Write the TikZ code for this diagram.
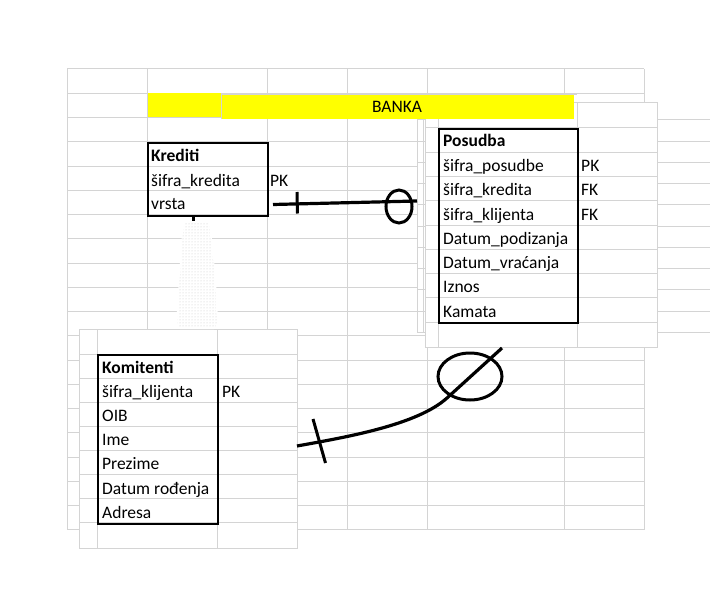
\documentclass[tikz,border=0pt]{standalone}
\usepackage{fontspec}
\setmainfont{Carlito}
\usetikzlibrary{patterns}
\definecolor{gridc}{RGB}{212,212,212}
\definecolor{xlyellow}{RGB}{255,255,0}
\begin{document}
\begin{tikzpicture}[x=1pt,y=-1pt,
  gridline/.style={draw=gridc,line width=1pt},
  sheet/.style={fill=white,draw=gridc,line width=1pt},
  entbox/.style={draw=black,line width=2pt,inner sep=0pt,anchor=north west},
  cell/.style={anchor=base west,inner sep=0pt,font=\fontsize{17.5}{20}\selectfont},
  hcell/.style={cell,font=\fontsize{17.5}{20}\selectfont\bfseries},
  title/.style={anchor=base,inner sep=0pt,font=\fontsize{17.5}{20}\selectfont},
  link/.style={draw=black,line width=3.2pt},
  tickmark/.style={draw=black,line width=3pt},
  ring/.style={draw=black,line width=3pt}
]
\useasboundingbox (0,0) rectangle (710,599);
\fill[white] (0,0) rectangle (710,599);

% main worksheet grid
\foreach \x in {67,147,267,347,427,564.5,644} \draw[gridline] (\x,69) -- (\x,530);
\foreach \k in {0,...,19} \draw[gridline] (67,69+\k*24.263) -- (644,69+\k*24.263);

% yellow cell of the sheet
\fill[xlyellow] (147.5,93.5) rectangle (221,117);

% sheet picture behind Posudba
\fill[white] (417.5,120) rectangle (712,332.5);
\draw[gridline] (417.5,332.5) -- (417.5,120) -- (712,120);
\draw[gridline] (423.3,120) -- (423.3,332.5);
\foreach \k in {1,...,10} \draw[gridline] (417.5,120+\k*21.23) -- (712,120+\k*21.23);

% sheet picture of Posudba
\draw[sheet] (425.5,103) rectangle (657,347);
\foreach \x in {438,577} \draw[gridline] (\x,103) -- (\x,347);
\foreach \y in {128,152.3,176.5,200.8,225,249.3,273.5,297.8,322} \draw[gridline] (425.5,\y) -- (657,\y);

% pasted yellow title
\fill[xlyellow] (221,94.5) rectangle (573.5,119);
\draw[gridline] (221,119) -- (221,94.5) -- (577,94.5);
\node[title] (banka) at (397,113) {BANKA};

% sheet picture of Komitenti
\draw[sheet] (79.5,329) rectangle (297,548);
\foreach \x in {97,217} \draw[gridline] (\x,329) -- (\x,548);
\foreach \k in {0,...,7} \draw[gridline] (79.5,354+\k*24.14) -- (297,354+\k*24.14);

% erased strip below Krediti
\fill[white, rounded corners=4pt] (183,219) -- (210,219) -- (214,260) -- (217.5,300) -- (218,329) -- (176,329) -- (177.5,300) -- (180,260) -- cycle;
\fill[pattern=dots, pattern color=black!22, rounded corners=4pt] (184,222) -- (209,222) -- (213,260) -- (216.5,300) -- (217,328) -- (177,328) -- (178.5,300) -- (181,260) -- cycle;
\fill[black] (191.5,215) rectangle (195,221);

% Krediti
\node[entbox, minimum width=120pt, minimum height=73pt] (kred) at (146.5,142) {};
\node[hcell] (kh) at (151,161.5) {Krediti};
\node[cell] (k1) at (151,186) {šifra\_kredita};
\node[cell] (k2) at (151,210) {vrsta};
\node[cell] (k1t) at (270,186) {PK};

% Posudba
\node[entbox, minimum width=139pt, minimum height=194pt] (pos) at (438,128) {};
\node[hcell] (ph) at (443,147) {Posudba};
\node[cell] (p1) at (443,171.5) {šifra\_posudbe};
\node[cell] (p2) at (443,195.5) {šifra\_kredita};
\node[cell] (p3) at (443,220) {šifra\_klijenta};
\node[cell] (p4) at (443,244) {Datum\_podizanja};
\node[cell] (p5) at (443,268) {Datum\_vraćanja};
\node[cell] (p6) at (443,292.5) {Iznos};
\node[cell] (p7) at (443,317) {Kamata};
\node[cell] (p1t) at (581,171.5) {PK};
\node[cell] (p2t) at (581,195.5) {FK};
\node[cell] (p3t) at (581,220) {FK};

% Komitenti
\node[entbox, minimum width=120pt, minimum height=169pt] (kom) at (97,354) {};
\node[hcell] (mh) at (102,373) {Komitenti};
\node[cell] (m1) at (102,397) {šifra\_klijenta};
\node[cell] (m2) at (102,421) {OIB};
\node[cell] (m3) at (102,445) {Ime};
\node[cell] (m4) at (102,469.5) {Prezime};
\node[cell] (m5) at (102,494) {Datum rođenja};
\node[cell] (m6) at (102,518) {Adresa};
\node[cell] (m1t) at (222,397) {PK};

% connector Krediti -- Posudba
\coordinate (c1a) at (273,204.5);
\coordinate (c1b) at (417,201);
\draw[link] (c1a) -- (c1b);
\draw[tickmark] (297,192) -- (297.5,213.5);
\draw[ring] (399,206.5) ellipse (13 and 16.5);

% connector Komitenti -- Posudba
\coordinate (c2a) at (297,446);
\coordinate (c2m) at (447,398);
\coordinate (c2b) at (502,348);
\draw[link] (c2a) .. controls (347,437) and (417,425) .. (c2m) -- (c2b);
\draw[tickmark] (313,419) -- (325.5,463);
\draw[ring] (470,376.5) ellipse (32 and 23.5);
\end{tikzpicture}
\end{document}
